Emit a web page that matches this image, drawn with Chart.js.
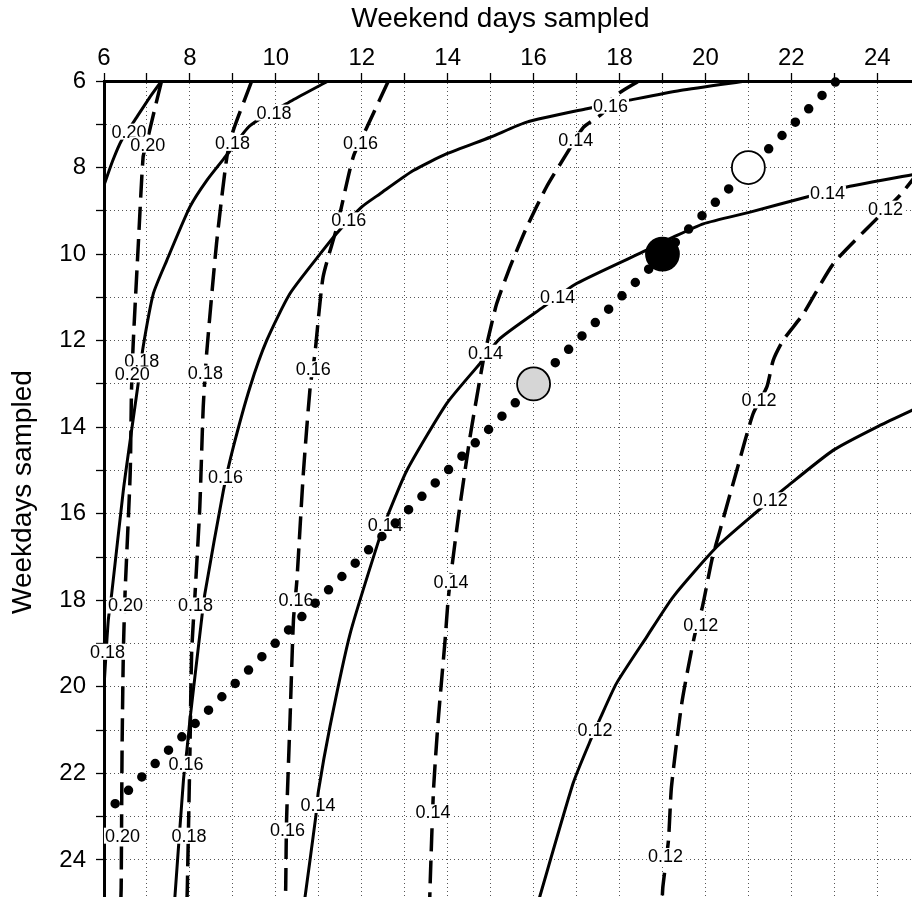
<!DOCTYPE html>
<html>
<head>
<meta charset="utf-8">
<title>Weekend and weekday sampling</title>
<script src="https://cdn.jsdelivr.net/npm/chart.js@4.4.0/dist/chart.umd.min.js"></script>
<style>
  html, body { margin: 0; padding: 0; background: #fff; overflow: hidden; }
  #wrap { width: 930px; height: 915px; }
</style>
</head>
<body>
<div id="wrap"><canvas id="myChart"></canvas></div>
<script>
// numbered ticks (the odd ones only get a tick mark)
const xTickLabels = [6, 8, 10, 12, 14, 16, 18, 20, 22, 24];
const yTickLabels = [6, 8, 10, 12, 14, 16, 18, 20, 22, 24];

// solid contours: [weekend days, weekdays]
const solid020 = [[6.0, 8.41], [6.2, 7.85], [6.41, 7.37], [6.76, 6.84], [7.05, 6.4], [7.34, 6.0]];
const solid018 = [[6.0, 20.0], [6.1, 18.46], [6.18, 17.84], [6.45, 15.46], [6.61, 14.3], [6.79, 13.03],
  [6.91, 12.15], [7.15, 10.91], [7.46, 10.15], [8.0, 8.91], [8.39, 8.3], [8.89, 7.67], [9.4, 7.03],
  [10.38, 6.45], [11.22, 6.0]];
const solid016 = [[7.64, 25.0], [7.85, 22.15], [7.93, 21.46], [8.0, 20.77], [8.27, 18.46], [8.35, 17.84],
  [8.78, 15.46], [9.01, 14.46], [9.4, 13.07], [9.79, 11.99], [10.33, 10.91], [11.1, 9.91], [11.41, 9.53],
  [12.0, 8.91], [12.42, 8.61], [13.2, 8.07], [13.98, 7.68], [14.99, 7.3], [15.84, 6.95], [17.24, 6.64],
  [18.2, 6.45], [19.41, 6.22], [20.96, 6.0]];
const solid014 = [[10.66, 25.0], [10.93, 23.0], [10.99, 22.42], [11.26, 20.92], [11.73, 18.77], [12.42, 16.54],
  [12.62, 16.0], [13.05, 15.0], [13.98, 13.45], [14.75, 12.53], [15.22, 11.95], [16.23, 11.22], [17.0, 10.68],
  [18.63, 9.91], [19.25, 9.61], [19.95, 9.3], [21.04, 9.03], [22.36, 8.68], [23.29, 8.45], [25.0, 8.13]];
const solid012 = [[16.1, 25.0], [16.92, 22.23], [17.31, 21.27], [17.55, 20.73], [17.93, 19.92], [18.63, 18.85],
  [19.25, 17.92], [20.26, 16.77], [21.19, 15.96], [21.89, 15.38], [22.98, 14.53], [24.06, 13.96], [25.0, 13.52]];

// dashed contours
const dashed020 = [[7.34, 6.0], [7.19, 6.61], [6.99, 7.44], [6.91, 7.76], [6.8, 9.75], [6.68, 12.06], [6.64, 13.15],
  [6.61, 15.06], [6.49, 17.84], [6.45, 19.22], [6.42, 21.53], [6.4, 24.63], [6.39, 25.0]];
const dashed018 = [[9.44, 6.0], [9.01, 7.14], [8.86, 7.76], [8.62, 9.75], [8.39, 12.29], [8.31, 13.53], [8.23, 15.85],
  [8.12, 17.84], [8.04, 19.22], [8.0, 21.53], [7.94, 24.63], [7.93, 25.0]];
const dashed016 = [[12.62, 6.0], [12.12, 7.07], [11.8, 7.76], [11.42, 9.38], [11.1, 10.53], [10.91, 12.3], [10.8, 13.07],
  [10.64, 15.07], [10.49, 17.54], [10.41, 18.46], [10.33, 20.77], [10.25, 23.08], [10.23, 24.62], [10.22, 25.0]];
const dashed014 = [[18.45, 6.0], [17.86, 6.37], [17.59, 6.76], [17.16, 7.07], [16.77, 7.68], [16.3, 8.45], [15.84, 9.38],
  [15.45, 10.3], [15.14, 11.15], [14.95, 11.92], [14.83, 12.45], [14.52, 14.23], [14.25, 16.07], [14.09, 17.3],
  [14.01, 18.0], [13.94, 18.92], [13.78, 20.77], [13.67, 22.39], [13.59, 24.62], [13.58, 25.0]];
const dashed012 = [[25.0, 8.06], [24.53, 8.64], [23.99, 9.18], [22.98, 10.22], [22.28, 11.38], [21.81, 11.99],
  [21.58, 12.45], [21.43, 13.07], [21.11, 13.69], [20.73, 15.0], [20.34, 16.38], [20.15, 17.07], [19.93, 18.15],
  [19.74, 18.85], [19.45, 20.38], [19.21, 22.31], [19.14, 23.54], [19.01, 24.62], [18.99, 25.0]];

// contour value labels: [weekend days, weekdays, text]
const contourLabels = [
  [6.58, 7.17, '0.20'], [7.02, 7.47, '0.20'], [9.96, 6.73, '0.18'], [8.99, 7.43, '0.18'],
  [11.97, 7.43, '0.16'], [11.70, 9.22, '0.16'], [17.79, 6.57, '0.16'], [16.98, 7.37, '0.14'],
  [16.56, 10.99, '0.14'], [14.88, 12.28, '0.14'], [22.84, 8.60, '0.14'], [24.19, 8.95, '0.12'],
  [6.88, 12.48, '0.18'], [6.66, 12.78, '0.20'], [8.36, 12.76, '0.18'], [10.87, 12.66, '0.16'],
  [8.83, 15.15, '0.16'], [12.55, 16.25, '0.14'], [6.50, 18.12, '0.20'], [8.13, 18.12, '0.18'],
  [10.47, 18.00, '0.16'], [6.08, 19.19, '0.18'], [7.91, 21.78, '0.16'], [10.98, 22.73, '0.14'],
  [6.43, 23.44, '0.20'], [7.98, 23.44, '0.18'], [10.27, 23.32, '0.16'], [14.08, 17.57, '0.14'],
  [13.66, 22.90, '0.14'], [21.25, 13.38, '0.12'], [21.51, 15.69, '0.12'], [19.89, 18.57, '0.12'],
  [17.43, 21.00, '0.12'], [19.07, 23.91, '0.12']
];

// line of equal total sampling effort, and the three designs on it
const totalLine = [[6.26, 22.7], [23.05, 6.0]];
const designOpen = [[21, 8]];
const designFilled = [[19, 10]];
const designGray = [[16, 13]];

const FONT = '"Liberation Sans", Arial, Helvetica, sans-serif';

function toXY(arr) {
  return arr.map(p => ({ x: p[0], y: p[1] }));
}

function contour(data, dashed) {
  return {
    data: toXY(data),
    showLine: true,
    pointRadius: 0,
    borderColor: '#000',
    borderWidth: dashed ? 3.5 : 3,
    borderDash: dashed ? [23, 9] : [],
    tension: 0.2,
    order: 3
  };
}

function design(data, fill) {
  return {
    data: toXY(data),
    pointRadius: 16.5,
    pointBackgroundColor: fill,
    pointBorderColor: '#000',
    pointBorderWidth: 1.8,
    order: 1
  };
}

// fixed axis boxes, and no extra room for the first/last tick label
function fixAxis(size) {
  return function (scale) {
    if (scale.isHorizontal()) {
      scale.height = size;
    } else {
      scale.width = size;
    }
    scale.paddingTop = 0;
    scale.paddingBottom = 0;
    scale.paddingLeft = 0;
    scale.paddingRight = 0;
  };
}

// contour labels go on top of the lines but under the dots and circles
const contourLabelPlugin = {
  id: 'contourLabels',
  afterDatasetDraw(chart, args) {
    if (args.index !== 0) return;
    const { ctx } = chart;
    const xs = chart.scales.x;
    const ys = chart.scales.y;
    ctx.save();
    ctx.font = '18px ' + FONT;
    ctx.textAlign = 'center';
    ctx.textBaseline = 'middle';
    contourLabels.forEach(([vx, vy, text]) => {
      const px = xs.getPixelForValue(vx);
      const py = ys.getPixelForValue(vy);
      const w = ctx.measureText(text).width + 2;
      ctx.fillStyle = '#fff';
      ctx.fillRect(px - w / 2, py - 8, w, 16);
      ctx.fillStyle = '#000';
      ctx.fillText(text, px, py + 1);
    });
    ctx.restore();
  }
};

const ctx = document.getElementById('myChart').getContext('2d');

new Chart(ctx, {
  type: 'scatter',
  data: {
    datasets: [
      contour(solid020, false),
      contour(solid018, false),
      contour(solid016, false),
      contour(solid014, false),
      contour(solid012, false),
      contour(dashed020, true),
      contour(dashed018, true),
      contour(dashed016, true),
      contour(dashed014, true),
      contour(dashed012, true),
      {
        data: toXY(totalLine),
        showLine: true,
        pointRadius: 0,
        borderColor: '#000',
        borderWidth: 9.5,
        borderDash: [0, 18.88],
        borderCapStyle: 'round',
        clip: false,
        order: 2
      },
      design(designGray, '#d6d6d6'),
      design(designFilled, '#000'),
      design(designOpen, '#fff')
    ]
  },
  options: {
    responsive: true,
    maintainAspectRatio: false,
    animation: false,
    events: [],
    layout: {
      autoPadding: false,
      padding: { left: 0, top: 0, right: 9.8, bottom: 11.8 }
    },
    plugins: {
      legend: { display: false },
      tooltip: { enabled: false }
    },
    scales: {
      x: {
        type: 'linear',
        position: 'top',
        min: 6,
        max: 25,
        afterFit: fixAxis(81),
        ticks: {
          stepSize: 1,
          autoSkip: false,
          maxRotation: 0,
          padding: 0,
          color: '#000',
          font: { size: 24, family: FONT },
          callback: v => xTickLabels.includes(Math.round(v)) ? Math.round(v) : ''
        },
        grid: {
          color: '#555',
          lineWidth: 1,
          tickLength: 8,
          tickColor: '#000',
          tickWidth: 1.3,
          tickBorderDash: []
        },
        border: { display: true, color: '#000', width: 3, dash: [1, 3] },
        title: {
          display: true,
          // trailing spaces nudge the centred title a little to the left
          text: 'Weekend days sampled   ',
          color: '#000',
          font: { size: 28, family: FONT },
          padding: { top: 2, bottom: 0 }
        }
      },
      y: {
        type: 'linear',
        position: 'left',
        reverse: true,
        min: 6,
        max: 25,
        afterFit: fixAxis(104),
        ticks: {
          stepSize: 1,
          autoSkip: false,
          padding: 10,
          color: '#000',
          font: { size: 24, family: FONT },
          callback: v => yTickLabels.includes(Math.round(v)) ? Math.round(v) : ''
        },
        grid: {
          color: '#555',
          lineWidth: 1,
          tickLength: 8,
          tickColor: '#000',
          tickWidth: 1.3,
          tickBorderDash: []
        },
        border: { display: true, color: '#000', width: 3, dash: [1, 3] },
        title: {
          display: true,
          text: 'Weekdays sampled',
          color: '#000',
          font: { size: 28, family: FONT },
          padding: { top: 6, bottom: 0 }
        }
      }
    }
  },
  plugins: [contourLabelPlugin]
});
</script>
</body>
</html>
